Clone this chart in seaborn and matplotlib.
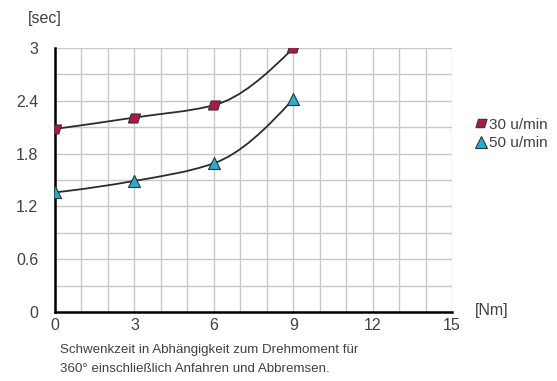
import matplotlib
matplotlib.use("Agg")
import matplotlib.pyplot as plt
from matplotlib.path import Path
from matplotlib.patches import PathPatch
from matplotlib.lines import Line2D
import numpy as np
import pandas as pd
import seaborn as sns

# data
torque = [0, 3, 6, 9]
time_30 = [2.08, 2.21, 2.35, 3.0]
time_50 = [1.36, 1.49, 1.69, 2.42]
series_names = ["30 u/min", "50 u/min"]
x_ticks = [0, 3, 6, 9, 12, 15]
y_ticks = [0, 0.6, 1.2, 1.8, 2.4, 3]

df = pd.DataFrame({
    "torque": torque * 2,
    "time": time_30 + time_50,
    "series": [series_names[0]] * 4 + [series_names[1]] * 4,
})

sns.set_theme(style="white")
plt.rcParams["font.family"] = ["Liberation Sans", "DejaVu Sans"]
txt = "#404040"

fig = plt.figure(figsize=(5.57, 3.81), dpi=100)
ax = fig.add_axes([0.0987, 0.181, 0.713, 0.693])


def smooth_path(xs, ys):
    # monotone (pchip-style) hermite curve through the points, as bezier
    x = np.asarray(xs, float)
    y = np.asarray(ys, float)
    h = np.diff(x)
    d = np.diff(y) / h
    m = np.zeros_like(y)
    for i in range(1, len(x) - 1):
        if d[i - 1] * d[i] > 0:
            w1 = 2 * h[i] + h[i - 1]
            w2 = h[i] + 2 * h[i - 1]
            m[i] = (w1 + w2) / (w1 / d[i - 1] + w2 / d[i])
    m[0] = ((2 * h[0] + h[1]) * d[0] - h[0] * d[1]) / (h[0] + h[1])
    m[-1] = ((2 * h[-1] + h[-2]) * d[-1] - h[-1] * d[-2]) / (h[-1] + h[-2])
    verts = [(x[0], y[0])]
    codes = [Path.MOVETO]
    for i in range(len(x) - 1):
        verts += [(x[i] + h[i] / 3, y[i] + m[i] * h[i] / 3),
                  (x[i + 1] - h[i] / 3, y[i + 1] - m[i + 1] * h[i] / 3),
                  (x[i + 1], y[i + 1])]
        codes += [Path.CURVE4] * 3
    return Path(verts, codes)


for ys in (time_30, time_50):
    ax.add_patch(PathPatch(smooth_path(torque, ys), fill=False,
                           edgecolor="#2b2b2b", lw=1.3, zorder=3))

para = [(-1, -0.75), (0.55, -0.75), (1, 0.75), (-0.55, 0.75), (-1, -0.75)]
colors = {series_names[0]: "#b4173f", series_names[1]: "#1fb0d6"}
markers = {series_names[0]: para, series_names[1]: "^"}
for name in series_names:
    sub = df[df["series"] == name]
    sns.scatterplot(data=sub, x="torque", y="time", ax=ax, color=colors[name],
                    marker=markers[name], s=75, edgecolor="#333333",
                    linewidth=0.8, zorder=5, legend=False)

ax.set_xlim(0, 15)
ax.set_ylim(0, 3)
ax.set_xticks(x_ticks)
ax.set_yticks(y_ticks)
ax.set_yticklabels(["0", "0.6", "1.2", "1.8", "2.4", "3"])
ax.set_xticks(np.arange(0, 16, 1), minor=True)
ax.set_yticks(np.arange(0, 3.01, 0.3), minor=True)
ax.grid(which="both", color="#c8c8c8", lw=1.0)
ax.set_axisbelow(True)
ax.tick_params(which="major", length=5, width=1.2, color="black",
               labelsize=11.5, labelcolor=txt, pad=7)
ax.tick_params(axis="x", which="major", direction="out", length=4, pad=0)
ax.tick_params(which="minor", length=0)
ax.set_xlabel("")
ax.set_ylabel("")
for s in ["top", "right"]:
    ax.spines[s].set_visible(False)
for s in ["left", "bottom"]:
    ax.spines[s].set_color("black")
    ax.spines[s].set_linewidth(1.8)

fig.text(28 / 557, 1 - 18 / 381, "[sec]", fontsize=11.5, color=txt, va="center")
fig.text(475 / 557, 1 - 311 / 381, "[Nm]", fontsize=11.5, color=txt, va="center")
fig.text(60 / 557, 1 - 350 / 381,
         "Schwenkzeit in Abhängigkeit zum Drehmoment für", fontsize=9.6,
         color=txt, va="center")
fig.text(60 / 557, 1 - 369 / 381,
         "360° einschließlich Anfahren und Abbremsen.", fontsize=9.6,
         color=txt, va="center")

handles = [Line2D([], [], ls="none", marker=markers[n], color=colors[n],
                  markeredgecolor="#333333", markersize=8, markeredgewidth=0.8)
           for n in series_names]
fig.legend(handles, series_names, loc="center left",
           bbox_to_anchor=(466 / 557, 1 - 134 / 381), frameon=False,
           handletextpad=0.0, handlelength=1.0, labelspacing=0.3,
           fontsize=11, labelcolor=txt, borderpad=0)

fig.savefig("out.png", dpi=100)
